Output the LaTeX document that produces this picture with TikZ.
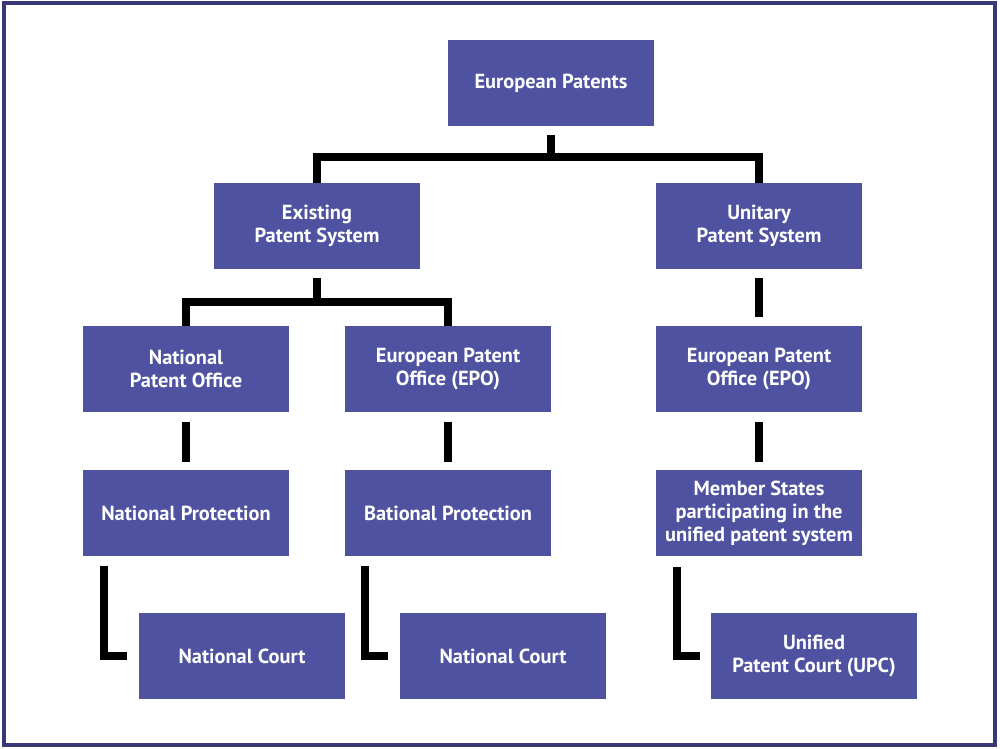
\documentclass[tikz,border=0pt]{standalone}
\usepackage{fontspec}
\setmainfont{PT Sans}
\usepackage{tikz}

\definecolor{boxblue}{RGB}{79,82,160}
\definecolor{framecol}{RGB}{56,56,118}

\begin{document}
\begin{tikzpicture}[x=0.02cm, y=-0.02cm,
        unit/.style={draw=none, fill=boxblue, text=white, font=\bfseries\fontsize{11.6}{13}\selectfont,
            minimum width=4.12cm, minimum height=1.72cm, align=center, inner sep=0pt},
        conn/.style={line width=0.16cm, black}]
            \useasboundingbox (0,0) rectangle (1000,748);
            \draw[framecol, line width=0.08cm] (4,3) rectangle (995,745);

            \node[unit] (ep) at (551,83) {European Patents};
            \node[unit] (eps) at (317,226) {Existing\\Patent System};
            \node[unit] (ups) at (759,226) {Unitary\\Patent System};

            \node[unit] (npo) at (186,369) {National\\Patent Office};
            \node[unit] (epo) at (448,369) {European Patent\\Office (EPO)};
            \node[unit] (epou) at (759,369) {European Patent\\Office (EPO)};

            \node[unit] (np) at (186,513) {National Protection};
            \node[unit] (bp) at (448,513) {Bational Protection};
            \node[unit] (ms) at (759,513) {Member States\\participating in the\\unified patent system};

            \node[unit] (nc) at (242,656) {National Court};
            \node[unit] (nca) at (503,656) {National Court};
            \node[unit] (upc) at (814,656) {Unified\\Patent Court (UPC)};

            % tree branches
            \coordinate (top) at (551,157);
            \coordinate (mid) at (317,302);
            \draw[conn] ([yshift=-0.18cm]ep.south) -- (top);
            \draw[conn] (eps.north) -- (eps.north |- top) -- (ups.north |- top) -- (ups.north);
            \draw[conn] ([yshift=-0.18cm]eps.south) -- (mid);
            \draw[conn] (npo.north) -- (npo.north |- mid) -- (epo.north |- mid) -- (epo.north);

            % straight links
            \draw[conn] ([yshift=-0.18cm]ups.south) -- ([yshift=0.18cm]epou.north);
            \draw[conn] ([yshift=-0.2cm]npo.south) -- ([yshift=0.16cm]np.north);
            \draw[conn] ([yshift=-0.2cm]epo.south) -- ([yshift=0.16cm]bp.north);
            \draw[conn] ([yshift=-0.2cm]epou.south) -- ([yshift=0.16cm]ms.north);

            % courts
            \draw[conn] ([xshift=0.42cm, yshift=-0.2cm]np.south west) |- ([xshift=-0.24cm]nc.west);
            \draw[conn] ([xshift=0.4cm, yshift=-0.2cm]bp.south west) |- ([xshift=-0.24cm]nca.west);
            \draw[conn] ([xshift=0.42cm, yshift=-0.22cm]ms.south west) |- ([xshift=-0.22cm]upc.west);

        \end{tikzpicture}
\end{document}
